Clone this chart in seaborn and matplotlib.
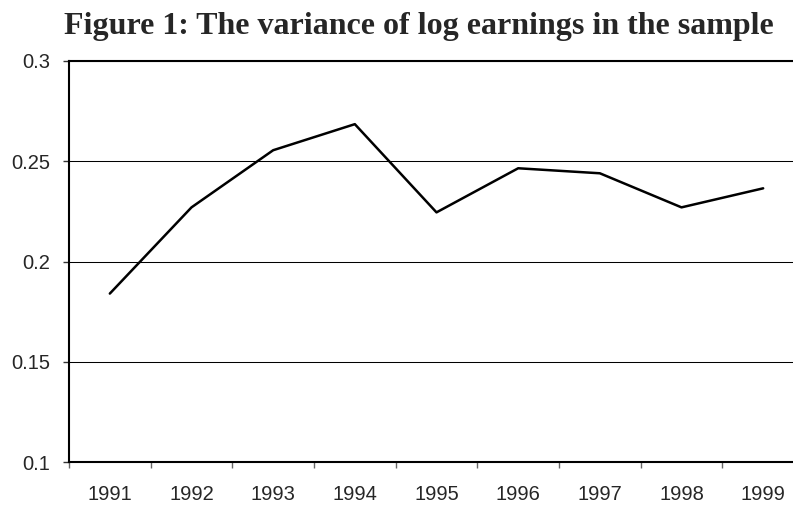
import numpy as np
import pandas as pd
import matplotlib.pyplot as plt
import seaborn as sns

# Data
years = ['1991', '1992', '1993', '1994', '1995', '1996', '1997', '1998', '1999']
variance = [0.184, 0.227, 0.2555, 0.2685, 0.2245, 0.2465, 0.244, 0.227, 0.2365]

df = pd.DataFrame({'year': years, 'variance': variance})

sns.set_style("white")
plt.rcParams['font.family'] = ['Liberation Sans', 'DejaVu Sans']

fig = plt.figure(figsize=(7.93, 5.05), dpi=100)
# plot area runs past the right edge of the image, like the original
ax = fig.add_axes([69 / 793, 43 / 505, 735 / 793, 401 / 505])

sns.lineplot(data=df, x='year', y='variance', ax=ax, color='black', linewidth=1.8, sort=False)

# Y axis
ax.set_ylim(0.1, 0.3)
ax.set_yticks([0.1, 0.15, 0.2, 0.25, 0.3])
ax.set_yticklabels(['0.1', '0.15', '0.2', '0.25', '0.3'])
ax.grid(axis='y', color='black', linewidth=0.75)
ax.tick_params(axis='y', direction='out', length=4.5, width=1, color='#333333', labelsize=14.5, pad=9, left=True)

# X axis: tick marks between categories, labels centred
ax.set_xlim(-0.5, len(years) - 0.5)
ax.set_xticks(np.arange(len(years) + 1) - 0.5)
ax.set_xticklabels([])
ax.set_xticks(np.arange(len(years)), minor=True)
ax.set_xticklabels(years, minor=True)
ax.tick_params(axis='x', which='major', direction='out', length=4, width=1, color='#666666', bottom=True)
ax.tick_params(axis='x', which='minor', length=0, labelsize=14.5, pad=16.5)

ax.set_xlabel('')
ax.set_ylabel('')

for side in ['left', 'bottom', 'top']:
    ax.spines[side].set_color('black')
    ax.spines[side].set_linewidth(1.5)
ax.spines['right'].set_visible(False)

fig.text(419 / 793, 1 - 34 / 505, 'Figure 1: The variance of log earnings in the sample',
         ha='center', va='baseline', fontsize=23, fontweight='bold', family=['Liberation Serif'])

plt.savefig('out.png', dpi=100)
